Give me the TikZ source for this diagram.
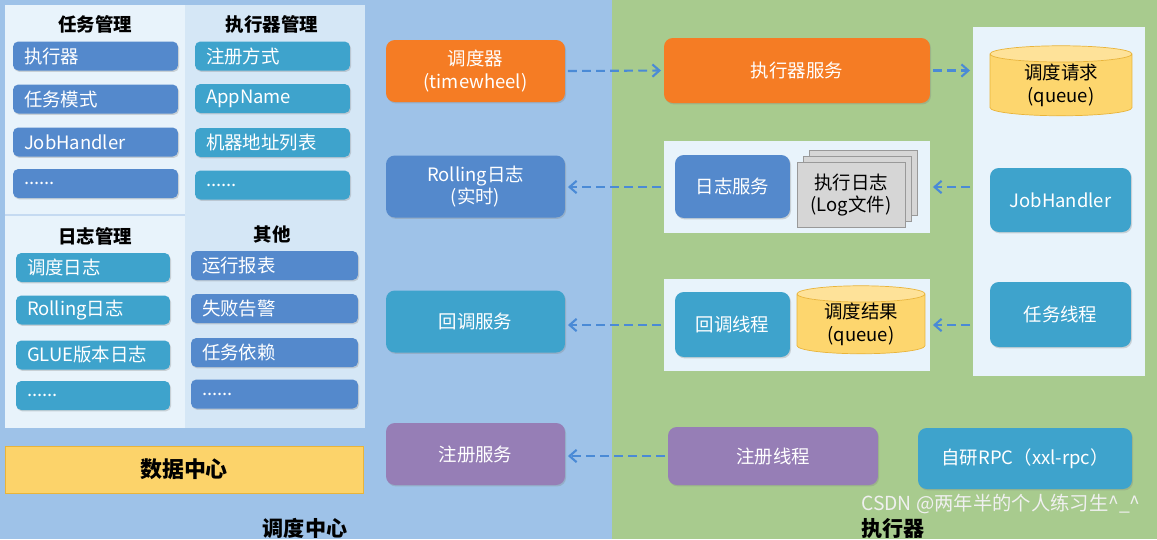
\documentclass[tikz,border=0pt]{standalone}
\usepackage{fontspec}
\setmainfont{Noto Sans CJK SC}
\usetikzlibrary{shapes.geometric, arrows.meta, shadows}
\definecolor{bgblue}{RGB}{158,194,232}
\definecolor{bggreen}{RGB}{168,203,142}
\definecolor{panelwhite}{RGB}{232,243,251}
\definecolor{itemblue}{RGB}{84,137,204}
\definecolor{itemteal}{RGB}{62,163,204}
\definecolor{schedorange}{RGB}{245,124,36}
\definecolor{regpurple}{RGB}{150,126,182}
\definecolor{queueyellow}{RGB}{253,214,110}
\definecolor{queueedge}{RGB}{233,180,58}
\definecolor{datayellow}{RGB}{252,211,106}
\definecolor{docgray}{RGB}{214,214,214}
\definecolor{flowblue}{RGB}{74,138,214}

\begin{document}
\begin{tikzpicture}[x=0.02cm, y=-0.02cm,
  panel/.style={fill=panelwhite, inner sep=0pt},
  head/.style={font=\fontsize{10.5}{12}\selectfont\bfseries, text=black},
  item/.style={fill=#1, text=white, rounded corners=3pt, drop shadow={opacity=0.3, shadow xshift=0.6pt, shadow yshift=-0.8pt}, minimum height=0.58cm, inner xsep=0.22cm, inner ysep=0pt, align=left, font=\fontsize{10.5}{12}\selectfont},
  box/.style={fill=#1, text=white, rounded corners=5pt, drop shadow={opacity=0.3, shadow xshift=0.6pt, shadow yshift=-0.8pt}, align=center, font=\fontsize{10.5}{13}\selectfont},
  queue/.style={cylinder, shape border rotate=90, aspect=0.22, draw=queueedge, cylinder uses custom fill, cylinder body fill=queueyellow, cylinder end fill=queueyellow!70!white, align=center, inner sep=0pt, font=\fontsize{10.5}{13}\selectfont},
  docs/.style={fill=docgray, draw=gray!80, double copy shadow={shadow xshift=3.4pt, shadow yshift=3.4pt, fill=docgray, draw=gray!80}, align=center, inner sep=0pt, font=\fontsize{10.5}{13}\selectfont},
  flow/.style={-{Straight Barb[length=4pt, width=7pt]}, dash pattern=on 5pt off 3pt, flowblue, line width=1.2pt, shorten >=1.5pt, shorten <=1.5pt}
]
  \useasboundingbox (0,0) rectangle (1157,539);
  \fill[bgblue] (0,0) rectangle (612,539);
  \fill[bggreen] (612,0) rectangle (1157,539);

  % scheduling centre, management panel
  \node[panel, minimum width=7.2cm, minimum height=8.46cm] (leftpanel) at (185,216.5) {};
  \fill[bgblue!25!panelwhite] (185,5) rectangle (365,428);
  \draw[bgblue!60!white, line width=0.8pt] (5,215) -- (185,215);
  \node[head] (taskhead) at (95,24) {任务管理};
  \node[head] (exehead) at (272,24) {执行器管理};
  \node[head] (loghead) at (95,236) {日志管理};
  \node[head] (otherhead) at (272,234) {其他};

  \node[item=itemblue, text width=2.86cm] (taskexec) at (95.5,56) {执行器};
  \node[item=itemblue, text width=2.86cm] (taskmode) at (95.5,99) {任务模式};
  \node[item=itemblue, text width=2.86cm] (taskhandler) at (95.5,142) {JobHandler};
  \node[item=itemblue, text width=2.86cm] (taskmore) at (95.5,183.5) {......};

  \node[item=itemteal, text width=2.66cm] (exereg) at (272.5,56) {注册方式};
  \node[item=itemteal, text width=2.66cm] (exeapp) at (272.5,98.5) {AppName};
  \node[item=itemteal, text width=2.66cm] (exeaddr) at (272.5,142.5) {机器地址列表};
  \node[item=itemteal, text width=2.66cm] (exemore) at (272.5,185) {......};

  \node[item=itemteal, text width=2.64cm] (logsched) at (93,267.5) {调度日志};
  \node[item=itemteal, text width=2.64cm] (logrolling) at (93,310) {Rolling日志};
  \node[item=itemteal, text width=2.64cm] (logglue) at (93,355) {GLUE版本日志};
  \node[item=itemteal, text width=2.64cm] (logmore) at (93,395.5) {......};

  \node[item=itemblue, text width=2.9cm] (otherreport) at (274.5,265.5) {运行报表};
  \node[item=itemblue, text width=2.9cm] (otheralarm) at (274.5,308.5) {失败告警};
  \node[item=itemblue, text width=2.9cm] (otherdepend) at (274.5,352.5) {任务依赖};
  \node[item=itemblue, text width=2.9cm] (othermore) at (274.5,394) {......};

  \node[fill=datayellow, draw=queueedge, minimum width=7.16cm, minimum height=0.94cm, font=\fontsize{12.5}{14}\selectfont\bfseries] (data) at (184,469.5) {数据中心};
  \node[head, font=\fontsize{12}{14}\selectfont\bfseries] (centerlabel) at (305,528) {调度中心};

  % scheduling centre, services
  \node[box=schedorange, minimum width=3.58cm, minimum height=1.24cm] (sched) at (475.5,71) {调度器\\(timewheel)};
  \node[box=itemblue, minimum width=3.58cm, minimum height=1.24cm] (rolling) at (475.5,186.5) {Rolling日志\\(实时)};
  \node[box=itemteal, minimum width=3.58cm, minimum height=1.24cm] (callback) at (475.5,321.5) {回调服务};
  \node[box=regpurple, minimum width=3.58cm, minimum height=1.24cm] (regsvc) at (475.5,454) {注册服务};

  % executor
  \node[box=schedorange, minimum width=5.32cm, minimum height=1.3cm] (exesvc) at (797,70.5) {执行器服务};

  \node[panel, minimum width=5.32cm, minimum height=1.84cm] (logpanel) at (797,187) {};
  \node[box=itemblue, minimum width=2.3cm, minimum height=1.26cm] (logsvc) at (732.5,186.5) {日志服务};
  \node[docs, minimum width=2.16cm, minimum height=1.3cm] (logfile) at (851,195) {执行日志\\(Log文件)};

  \node[panel, minimum width=5.32cm, minimum height=1.84cm] (cbpanel) at (797,325) {};
  \node[box=itemteal, minimum width=2.3cm, minimum height=1.3cm] (cbthread) at (732.5,324.5) {回调线程};
  \node[queue, minimum width=2.56cm, minimum height=1.36cm] (result) at (861,324) {调度结果\\(queue)};

  \node[box=regpurple, minimum width=4.2cm, minimum height=1.16cm] (regthread) at (773,456) {注册线程};
  \node[box=itemteal, minimum width=4.28cm, minimum height=1.22cm] (rpc) at (1025,458.5) {自研RPC（xxl-rpc）};

  \node[panel, minimum width=3.44cm, minimum height=6.98cm] (rpanel) at (1059,201.5) {};
  \node[queue, minimum width=2.84cm, minimum height=1.4cm] (request) at (1061,85) {调度请求\\(queue)};
  \node[box=itemteal, minimum width=2.82cm, minimum height=1.28cm] (jobhandler) at (1060.5,200) {JobHandler};
  \node[box=itemteal, minimum width=2.82cm, minimum height=1.3cm] (taskthread) at (1060.5,314.5) {任务线程};

  \node[head, font=\fontsize{12}{14}\selectfont\bfseries] (exelabel) at (893,529) {执行器};
  \node[text=white!88!gray, font=\fontsize{11}{13}\selectfont] (mark) at (1001,504) {CSDN @两年半的个人练习生\^{}\_\^{}};

  % request and feedback flow
  \draw[flow] (sched.east) -- (exesvc.west);
  \draw[flow] (exesvc.east) -- (exesvc.east -| rpanel.west);
  \draw[flow] (rpanel.west |- logpanel.east) -- (logpanel.east);
  \draw[flow] (logpanel.west) -- (logpanel.west -| rolling.east);
  \draw[flow] (rpanel.west |- cbpanel.east) -- (cbpanel.east);
  \draw[flow] (cbpanel.west) -- (cbpanel.west -| callback.east);
  \draw[flow] (regthread.west) -- (regthread.west -| regsvc.east);
\end{tikzpicture}
\end{document}
